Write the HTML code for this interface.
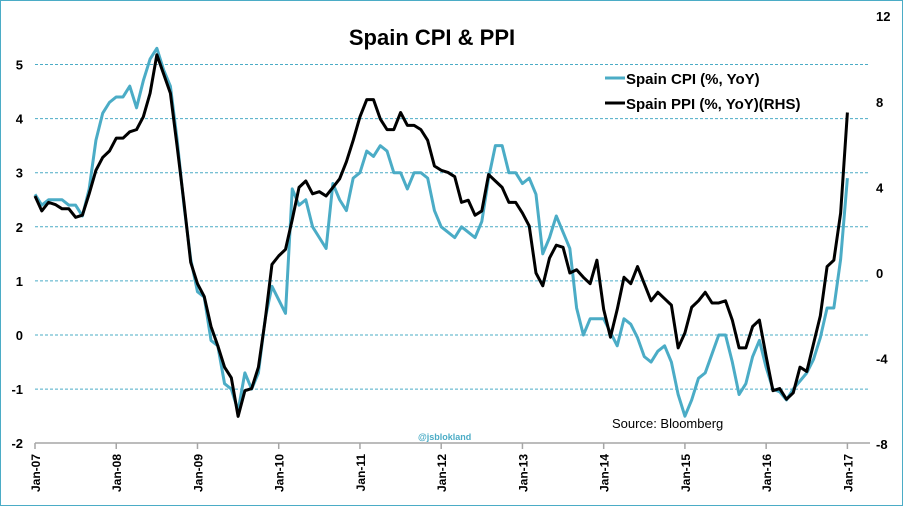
<!DOCTYPE html>
<html><head><meta charset="utf-8"><style>
body{margin:0;background:#fff}
#wrap{position:relative;width:903px;height:506px;overflow:hidden;font-family:"Liberation Sans",sans-serif}
text{font-family:"Liberation Sans",sans-serif}
</style></head><body>
<div id="wrap">
<svg id="chart" width="903" height="506">
<rect x="0.5" y="0.5" width="902" height="505" fill="#fff" stroke="#4bacc6" stroke-width="1"/>
<text x="432" y="45" text-anchor="middle" font-size="22" font-weight="bold" fill="#000">Spain CPI &amp; PPI</text>
<g id="grid"></g>
<g id="axes"></g>
<g id="series"></g>
<g>
<g><line x1="605" y1="78" x2="625" y2="78" stroke="#4bacc6" stroke-width="3"/><text x="626" y="84" font-size="15" font-weight="bold">Spain CPI (%, YoY)</text></g>
<g><line x1="605" y1="103" x2="625" y2="103" stroke="#000" stroke-width="3"/><text x="626" y="109" font-size="15" font-weight="bold">Spain PPI (%, YoY)(RHS)</text></g>
</g>
<text x="612" y="428" font-size="13" fill="#000">Source:  Bloomberg</text>
<text x="418" y="440" font-size="9" font-weight="bold" fill="#4bacc6">@jsblokland</text>
</svg>
</div>
<script>
const xLabels = ["Jan-07","Jan-08","Jan-09","Jan-10","Jan-11","Jan-12","Jan-13","Jan-14","Jan-15","Jan-16","Jan-17"];
const leftTicks = [-2,-1,0,1,2,3,4,5];
const rightTicks = [-8,-4,0,4,8,12];
const cpi = [2.6,2.4,2.5,2.5,2.5,2.4,2.4,2.2,2.7,3.6,4.1,4.3,
4.4,4.4,4.6,4.2,4.7,5.1,5.3,4.9,4.6,3.6,2.4,1.4,
0.8,0.7,-0.1,-0.2,-0.9,-1.0,-1.4,-0.7,-1.0,-0.7,0.3,0.9,
0.65,0.4,2.7,2.4,2.5,2.0,1.8,1.6,2.8,2.5,2.3,2.9,
3.0,3.4,3.3,3.5,3.4,3.0,3.0,2.7,3.0,3.0,2.9,2.3,
2.0,1.9,1.8,2.0,1.9,1.8,2.1,2.9,3.5,3.5,3.0,3.0,
2.8,2.9,2.6,1.5,1.8,2.2,1.9,1.6,0.5,0.0,0.3,0.3,
0.3,0.05,-0.2,0.3,0.2,-0.05,-0.4,-0.5,-0.3,-0.2,-0.5,-1.1,
-1.5,-1.2,-0.8,-0.7,-0.35,0.0,0.0,-0.5,-1.1,-0.9,-0.4,-0.1,
-0.6,-1.0,-1.05,-1.2,-1.0,-0.85,-0.7,-0.45,-0.05,0.5,0.5,1.4,
2.9];
const ppi = [3.6,2.9,3.3,3.2,3.0,3.0,2.6,2.7,3.7,4.8,5.4,5.7,
6.3,6.3,6.6,6.7,7.3,8.4,10.2,9.3,8.4,5.9,3.3,0.5,
-0.5,-1.1,-2.5,-3.4,-4.4,-4.9,-6.7,-5.5,-5.4,-4.4,-2.2,0.4,
0.8,1.1,2.5,4.0,4.3,3.7,3.8,3.6,4.0,4.4,5.2,6.2,
7.3,8.1,8.1,7.2,6.7,6.7,7.5,6.9,6.9,6.7,6.2,5.0,
4.8,4.7,4.5,3.3,3.4,2.7,2.9,4.6,4.3,4.0,3.3,3.3,
2.8,2.2,0.0,-0.6,0.7,1.3,1.2,0.0,0.15,-0.2,-0.5,0.6,
-1.7,-3.0,-1.7,-0.2,-0.5,0.3,-0.5,-1.3,-0.9,-1.2,-1.5,-3.5,
-2.8,-1.6,-1.3,-0.9,-1.4,-1.4,-1.3,-2.2,-3.5,-3.5,-2.5,-2.2,
-3.9,-5.5,-5.4,-5.9,-5.6,-4.4,-4.6,-3.3,-2.0,0.3,0.6,2.8,
7.5];

const NS="http://www.w3.org/2000/svg";
const X0=35, X1=870, MPX=6.77;
function xs(m){return X0+m*MPX;}
function yL(v){return 335-v*54.1;}
function yR(v){return 273-v*21.4;}
function mk(tag,attrs,parent){const e=document.createElementNS(NS,tag);for(const k in attrs)e.setAttribute(k,attrs[k]);parent.appendChild(e);return e;}
const grid=document.getElementById('grid'), axes=document.getElementById('axes'), series=document.getElementById('series');

leftTicks.forEach(t=>{
  if(t>-2){
    const g=mk('line',{x1:X0,x2:X1,y1:yL(t),y2:yL(t),stroke:'#4bacc6','stroke-width':1,'stroke-dasharray':'3,2'},grid);
    
    
  }
  const l=mk('text',{x:23,y:yL(t)+5,'text-anchor':'end','font-size':13,'font-weight':'bold'},axes);
  l.textContent=t;
  
  
});
rightTicks.forEach(t=>{
  const l=mk('text',{x:876,y:yR(t)+5,'font-size':13,'font-weight':'bold'},axes);
  l.textContent=t;
  
  
});
const ax=mk('line',{x1:X0,x2:X1,y1:443,y2:443,stroke:'#a6a6a6','stroke-width':1.5},axes);


xLabels.forEach((s,i)=>{
  const x=xs(i*12);
  const tk=mk('line',{x1:x,x2:x,y1:443,y2:449,stroke:'#a6a6a6','stroke-width':1.5},axes);
  
  
  const l=mk('text',{x:0,y:0,'text-anchor':'end','font-size':12,'font-weight':'bold',transform:`translate(${x+5},454) rotate(-90)`},axes);
  l.textContent=s;
  
  
});
const pc=mk('polyline',{points:cpi.map((v,i)=>xs(i)+','+yL(v)).join(' '),fill:'none',stroke:'#4bacc6','stroke-width':3,'stroke-linejoin':'round'},series);


const pp=mk('polyline',{points:ppi.map((v,i)=>xs(i)+','+yR(v)).join(' '),fill:'none',stroke:'#000','stroke-width':3,'stroke-linejoin':'round'},series);


</script>
</body></html>
